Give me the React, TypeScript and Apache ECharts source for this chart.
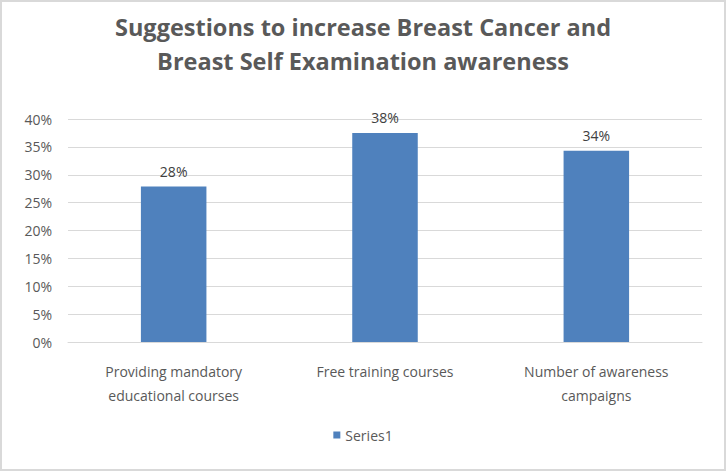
import React, { useEffect, useRef } from "react";
import * as echarts from "echarts";

const categories = [
  "Providing mandatory\neducational courses",
  "Free training courses",
  "Number of awareness\ncampaigns",
];
const seriesName = "Series1";
const values = [0.279, 0.375, 0.343];
const yTicks = { min: 0, max: 0.4, interval: 0.05 };
const titleText = "Suggestions to increase Breast Cancer and\nBreast Self Examination awareness";

const FONT = "'Open Sans', sans-serif";

export default function App() {
  const ref = useRef<HTMLDivElement>(null);
  useEffect(() => {
    if (!ref.current) return;
    const chart = echarts.init(ref.current, undefined, { renderer: "svg" });
    chart.setOption({
      animation: false,
      backgroundColor: "#ffffff",
      title: {
        text: titleText,
        left: "center",
        top: 3,
        textStyle: {
          fontFamily: FONT,
          fontSize: 23.5,
          fontWeight: "bold",
          color: "#595959",
          lineHeight: 34,
        },
      },
      grid: { left: 66, right: 22, top: 117, bottom: 127, containLabel: false },
      legend: {
        bottom: 22,
        left: "center",
        itemWidth: 7,
        itemHeight: 7,
        itemGap: 4,
        icon: "rect",
        textStyle: { fontFamily: FONT, fontSize: 14, color: "#595959" },
        data: [seriesName],
      },
      xAxis: {
        type: "category",
        data: categories,
        axisLine: { lineStyle: { color: "#d9d9d9", width: 1 } },
        axisTick: { show: false },
        axisLabel: {
          fontFamily: FONT,
          fontSize: 14,
          color: "#595959",
          lineHeight: 24,
          margin: 17,
          interval: 0,
        },
      },
      yAxis: {
        type: "value",
        min: yTicks.min,
        max: yTicks.max,
        interval: yTicks.interval,
        axisLine: { show: false },
        axisTick: { show: false },
        splitLine: { lineStyle: { color: "#d9d9d9", width: 1 } },
        axisLabel: {
          fontFamily: FONT,
          fontSize: 14,
          color: "#595959",
          margin: 16,
          formatter: (v: number) => Math.round(v * 100) + "%",
        },
      },
      series: [
        {
          name: seriesName,
          type: "bar",
          data: values,
          barWidth: "31%",
          itemStyle: { color: "#4f81bd" },
          label: {
            show: true,
            position: "top",
            distance: 8,
            fontFamily: FONT,
            fontSize: 14,
            color: "#404040",
            formatter: (p: any) => Math.round(p.value * 100) + "%",
          },
        },
      ],
    });
    return () => chart.dispose();
  }, []);
  return (
    <div
      style={{
        position: "fixed",
        left: 0,
        top: 0,
        width: 726,
        height: 471,
        boxSizing: "border-box",
        border: "2px solid #d9d9d9",
        background: "#fff",
      }}
    >
      <div ref={ref} style={{ width: "100%", height: "100%" }} />
    </div>
  );
}
